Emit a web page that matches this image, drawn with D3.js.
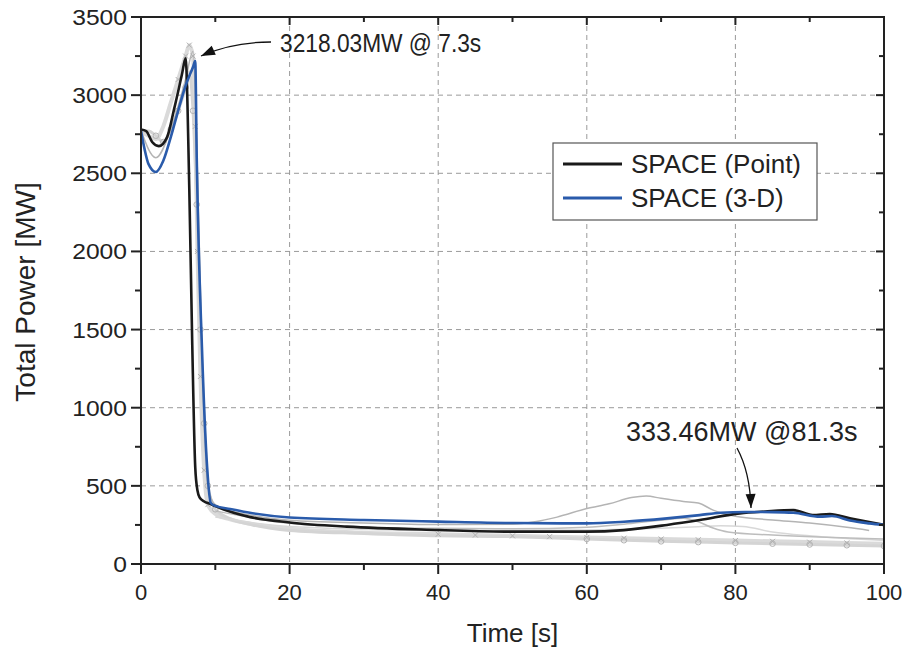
<!DOCTYPE html>
<html><head><meta charset="utf-8">
<script src="https://cdn.jsdelivr.net/npm/d3@7"></script>
<style>
body{margin:0;background:#fff}
text{font-family:"Liberation Sans",Arial,Helvetica,sans-serif;fill:#222}
</style>
</head><body><svg id="c" width="908" height="656"></svg>
<script>
// ---------- data ----------
const xTicks = [0, 20, 40, 60, 80, 100];
const yTicks = [0, 500, 1000, 1500, 2000, 2500, 3000, 3500];
const xMinor = [10, 30, 50, 70, 90];
const yMinor = [250, 750, 1250, 1750, 2250, 2750, 3250];

const seriesNames = ["SPACE (Point)", "SPACE (3-D)"];

const pointT = [0, 0.7, 1.5, 2.4, 3.5, 4.5, 5.5, 6.0, 6.5, 6.9, 7.3, 7.6, 7.9, 8.5, 9.3, 10, 14.7, 20, 27.7, 40, 50, 60, 65, 70.8, 75.2, 80.6, 84, 87.8, 90.4, 92.7, 95.4, 100];
const pointP = [2780, 2770, 2700, 2674, 2730, 2920, 3130, 3235, 2400, 1400, 620, 470, 425, 400, 385, 370, 300, 266, 239, 218, 207, 207, 217, 250, 281, 324, 336, 345, 313, 320, 292, 250];

const d3T = [0, 0.5, 1, 2, 3, 4, 5, 6, 7, 7.3, 7.5, 8.2, 8.9, 9.4, 10, 12, 15, 20, 30, 40, 50, 60, 65, 70.8, 75.2, 78, 81.3, 85, 87.8, 91.4, 93, 95.4, 98, 100];
const d3P = [2770, 2650, 2560, 2508, 2580, 2730, 2900, 3060, 3180, 3218, 2600, 1388, 620, 390, 372, 352, 325, 298, 282, 271, 262, 260, 270, 292, 313, 328, 333, 332, 328, 303, 307, 278, 260, 250];

// background gray runs (ensemble)
const grayAT = [0, 1, 2, 3, 4, 5, 6, 6.5, 7, 7.3, 7.6, 8, 8.5, 9, 10, 12, 15, 20, 30, 40, 50, 60, 70, 80, 90, 100];
const grayAP = [2770, 2740, 2720, 2800, 2950, 3100, 3250, 3320, 3250, 2800, 2000, 1200, 600, 380, 320, 285, 255, 225, 200, 190, 180, 170, 160, 150, 140, 130];
const grayBT = [0, 1, 2, 3, 4, 5, 6, 6.5, 7, 7.5, 8, 8.5, 9, 10, 12, 15, 20, 30, 40, 50, 60, 70, 80, 90, 100];
const grayBP = [2760, 2770, 2740, 2700, 2780, 2900, 3050, 3150, 2900, 2300, 1500, 900, 500, 350, 290, 250, 215, 195, 180, 175, 160, 145, 135, 125, 115];
const grayCT = [0, 2, 4, 6, 7, 7.6, 8.3, 9, 10, 15, 20, 30, 40, 50, 53, 56, 60, 63, 66, 68, 70, 73, 75, 77, 80, 85, 90, 95, 98];
const grayCP = [2775, 2600, 2780, 3100, 3280, 2500, 1200, 500, 380, 310, 280, 262, 252, 255, 270, 300, 355, 385, 425, 435, 420, 400, 390, 345, 305, 282, 262, 235, 215];
const grayDT = [10, 20, 30, 40, 50, 60, 65, 70, 73, 75, 77, 79, 85, 100];
const grayDP = [340, 260, 235, 228, 225, 235, 255, 280, 292, 270, 230, 205, 185, 160];
const grayET = [10, 20, 40, 60, 70, 75, 78, 81, 85, 90, 100];
const grayEP = [300, 240, 215, 218, 228, 238, 245, 240, 205, 180, 150];

// gray marker samples
const crossT = [5, 6, 6.5, 7, 7.3, 7.6, 8, 8.5, 9, 40, 45, 50, 55, 60, 65, 70, 75, 80, 85, 90, 95];
const crossP = [3100, 3250, 3320, 3250, 2800, 2000, 1200, 600, 380, 190, 185, 180, 175, 170, 165, 160, 155, 150, 145, 140, 135];
const circT = [2, 3, 4, 5, 6, 7, 7.5, 8, 8.5, 9, 10, 60, 65, 70, 75, 80, 85, 90, 95, 100];
const circP = [2740, 2700, 2780, 2900, 3050, 2900, 2300, 1500, 900, 500, 350, 160, 152, 145, 140, 135, 130, 125, 120, 115];

const annoText = ["3218.03MW @ 7.3s", "333.46MW @81.3s"];
const annoT = [7.3, 81.3];
const annoP = [3218.03, 333.46];

// ---------- chart ----------
const svg = d3.select("#c");
const L = 141, R = 884, T = 17, B = 564;
const x = d3.scaleLinear().domain([0, 100]).range([L, R]);
const y = d3.scaleLinear().domain([0, 3500]).range([B, T]);

svg.append("defs").append("clipPath").attr("id", "clip")
  .append("rect").attr("x", L).attr("y", T - 30).attr("width", R - L).attr("height", B - T + 30);

// grid
const grid = svg.append("g").attr("stroke", "#9a9a9a").attr("stroke-width", 1).attr("stroke-dasharray", "5,4");
xTicks.filter(v => v > 0 && v < 100).forEach(v => grid.append("line").attr("x1", x(v)).attr("x2", x(v)).attr("y1", T).attr("y2", B));
yTicks.filter(v => v > 0 && v < 3500).forEach(v => grid.append("line").attr("x1", L).attr("x2", R).attr("y1", y(v)).attr("y2", y(v)));

const zip = (a, b) => a.map((t, i) => [t, b[i]]);
const line = d3.line().x(d => x(d[0])).y(d => y(d[1])).curve(d3.curveMonotoneX);

const plot = svg.append("g").attr("clip-path", "url(#clip)");
// gray background
const grays = [
  [grayAT, grayAP, "#dadada", 4],
  [grayBT, grayBP, "#d4d4d4", 3],
  [grayET, grayEP, "#d8d8d8", 1.5],
  [grayDT, grayDP, "#bdbdbd", 1.5],
  [grayCT, grayCP, "#b4b4b4", 1.5]
];
grays.forEach(g => plot.append("path").datum(zip(g[0], g[1])).attr("d", line)
  .attr("fill", "none").attr("stroke", g[2]).attr("stroke-width", g[3]));

// markers
zip(crossT, crossP).forEach(d => {
  const cx = x(d[0]), cy = y(d[1]), s = 2.5;
  plot.append("path").attr("d", `M${cx - s},${cy - s}L${cx + s},${cy + s}M${cx - s},${cy + s}L${cx + s},${cy - s}`)
    .attr("stroke", "#b0b0b0").attr("stroke-width", 1);
});
zip(circT, circP).forEach(d => {
  plot.append("circle").attr("cx", x(d[0])).attr("cy", y(d[1])).attr("r", 2.8)
    .attr("fill", "none").attr("stroke", "#b4b4b4").attr("stroke-width", 1);
});

// main series
const colors = ["#1a1a1a", "#2a5bab"];
plot.append("path").datum(zip(pointT, pointP)).attr("d", line).attr("fill", "none")
  .attr("stroke", colors[0]).attr("stroke-width", 2.6).attr("stroke-linejoin", "round");
plot.append("path").datum(zip(d3T, d3P)).attr("d", line).attr("fill", "none")
  .attr("stroke", colors[1]).attr("stroke-width", 2.6).attr("stroke-linejoin", "round");

// axes frame and ticks
const ax = svg.append("g").attr("stroke", "#222");
ax.append("rect").attr("x", L).attr("y", T).attr("width", R - L).attr("height", B - T)
  .attr("fill", "none").attr("stroke-width", 2);
xTicks.forEach(v => {
  ax.append("line").attr("x1", x(v)).attr("x2", x(v)).attr("y1", B).attr("y2", B + 10).attr("stroke-width", 2);
  ax.append("line").attr("x1", x(v)).attr("x2", x(v)).attr("y1", T).attr("y2", T + 8).attr("stroke-width", 2);
});
xMinor.forEach(v => {
  ax.append("line").attr("x1", x(v)).attr("x2", x(v)).attr("y1", B).attr("y2", B + 6).attr("stroke-width", 2);
  ax.append("line").attr("x1", x(v)).attr("x2", x(v)).attr("y1", T).attr("y2", T + 5).attr("stroke-width", 2);
});
yTicks.forEach(v => {
  ax.append("line").attr("x1", L - 10).attr("x2", L).attr("y1", y(v)).attr("y2", y(v)).attr("stroke-width", 2);
  ax.append("line").attr("x1", R - 8).attr("x2", R).attr("y1", y(v)).attr("y2", y(v)).attr("stroke-width", 2);
});
yMinor.forEach(v => {
  ax.append("line").attr("x1", L - 6).attr("x2", L).attr("y1", y(v)).attr("y2", y(v)).attr("stroke-width", 2);
  ax.append("line").attr("x1", R - 5).attr("x2", R).attr("y1", y(v)).attr("y2", y(v)).attr("stroke-width", 2);
});

// tick labels
xTicks.forEach(v => svg.append("text").attr("x", x(v)).attr("y", 600).attr("text-anchor", "middle")
  .attr("font-size", 22).text(v));
yTicks.forEach(v => svg.append("text")
  .attr("transform", `translate(127,${y(v) + 8}) scale(1.12,1)`).attr("text-anchor", "end")
  .attr("font-size", 22).text(v));

// axis titles
svg.append("text").attr("x", (L + R) / 2).attr("y", 642).attr("text-anchor", "middle")
  .attr("font-size", 26).text("Time [s]");
svg.append("text").attr("transform", "translate(35,292) rotate(-90)").attr("text-anchor", "middle")
  .attr("font-size", 28).text("Total Power [MW]");

// legend
const lg = svg.append("g");
lg.append("rect").attr("x", 553).attr("y", 143).attr("width", 264).attr("height", 77)
  .attr("fill", "#fff").attr("stroke", "#555").attr("stroke-width", 1.2);
seriesNames.forEach((n, i) => {
  const ly = 164 + i * 34;
  lg.append("line").attr("x1", 563).attr("x2", 622).attr("y1", ly).attr("y2", ly)
    .attr("stroke", colors[i]).attr("stroke-width", 3);
  lg.append("text").attr("x", 631).attr("y", ly + 9).attr("font-size", 26).text(n);
});

// annotations
const annoLayout = [
  {tx: 280, ty: 52, fs: 26, sc: 0.875, sx: 271, sy: 42, cx: 232, cy: 42, ex: 201, ey: 56},
  {tx: 626, ty: 441, fs: 27, sc: 1, sx: 737, sy: 448, cx: 750, cy: 472, ex: 751, ey: 508}
];
annoText.forEach((s, i) => {
  const a = annoLayout[i];
  svg.append("text").attr("transform", `translate(${a.tx},${a.ty}) scale(${a.sc},1)`)
    .attr("font-size", a.fs).text(s);
  svg.append("path").attr("d", `M${a.sx},${a.sy}Q${a.cx},${a.cy} ${a.ex},${a.ey}`)
    .attr("fill", "none").attr("stroke", "#111").attr("stroke-width", 1.3);
  const ang = Math.atan2(a.ey - a.cy, a.ex - a.cx);
  const len = 14, w = 5;
  const bx = a.ex - len * Math.cos(ang), by = a.ey - len * Math.sin(ang);
  const px = -Math.sin(ang) * w, py = Math.cos(ang) * w;
  svg.append("path").attr("d", `M${a.ex},${a.ey}L${bx + px},${by + py}L${bx - px},${by - py}Z`).attr("fill", "#111");
});
</script></body></html>
